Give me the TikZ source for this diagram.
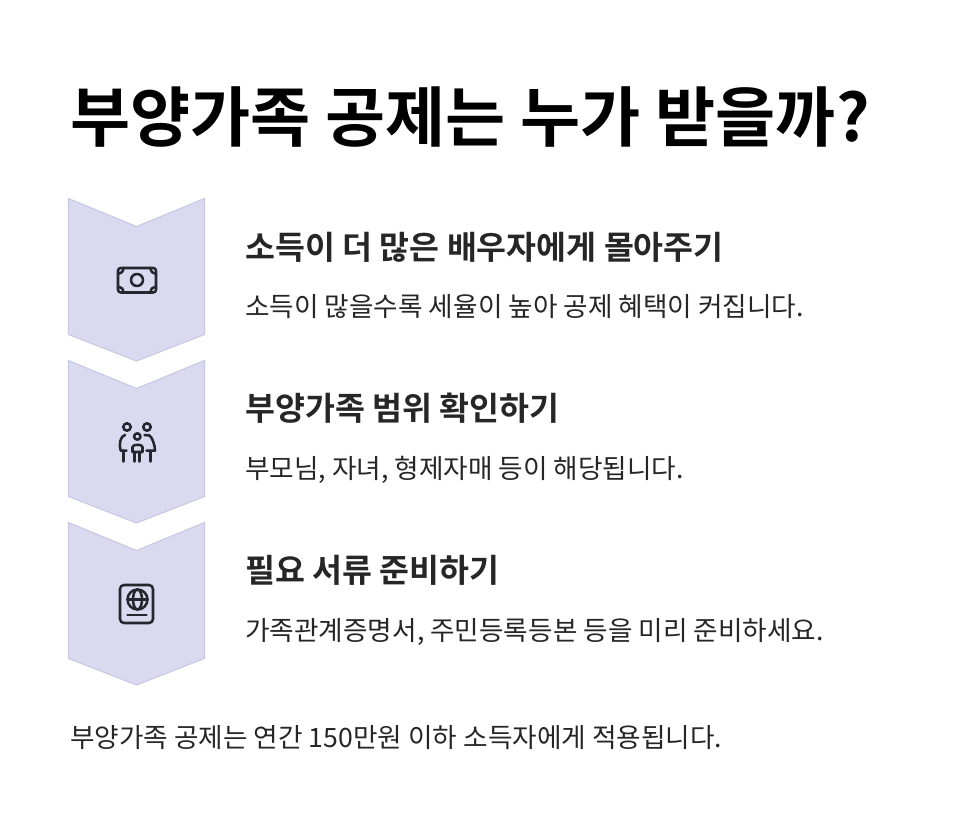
\documentclass[tikz,border=0pt]{standalone}
\usepackage{fontspec}
\setmainfont{Noto Sans CJK KR}
\newfontfamily\titlefont{Noto Sans CJK KR Bold}
\tikzset{
    chevron/.style={fill=chevfill, draw=chevline, line width=0.8pt, line join=miter},
    icon/.style={draw=iconline, line width=1.9pt, line cap=round, line join=round},
    titletext/.style={anchor=base west, inner sep=0pt, font=\titlefont\fontsize{49}{55}\selectfont},
    headtext/.style={anchor=base west, inner sep=0pt, text=headcol, font=\titlefont\fontsize{24.4}{30}\selectfont},
    bodytext/.style={anchor=base west, inner sep=0pt, text=headcol, font=\fontsize{20}{26}\selectfont}
}
\definecolor{chevfill}{HTML}{D9D9F0}
\definecolor{chevline}{HTML}{C8C8E2}
\definecolor{iconline}{HTML}{26262E}
\definecolor{headcol}{HTML}{262626}
\begin{document}
\begin{tikzpicture}[x=0.75pt, y=-0.75pt]
    \useasboundingbox (0,0) rectangle (975,831);

    % Title
    \node[titletext] (title) at (70, 142) {부양가족 공제는 누가 받을까?};

    % Chevrons
    \foreach \i in {0,1,2} {
        \draw[chevron] (68.5, 198.5+\i*162) -- (136.5, 226.5+\i*162) -- (204.5, 198.5+\i*162)
            -- (204.5, 334.5+\i*162) -- (136.5, 361+\i*162) -- (68.5, 334.5+\i*162) -- cycle;
    }

    % Money icon
    \draw[icon, rounded corners=2pt] (118, 268) rectangle (156, 292.5);
    \draw[icon] (137, 280) circle (6);
    \draw[icon] (118, 274) arc (-90:0:5.5 and -6);
    \draw[icon] (156, 274) arc (-90:-180:5.5 and -6);
    \draw[icon] (118, 286.5) arc (90:0:5.5 and -6);
    \draw[icon] (156, 286.5) arc (90:180:5.5 and -6);

    % Family icon
    \draw[icon] (127, 427) circle (3.7);
    \draw[icon] (147, 427) circle (3.7);
    \draw[icon] (137.3, 436.5) circle (3.2);
    \draw[icon] (125, 435) .. controls (120.5, 436) and (118.5, 444) .. (120.7, 450.7) -- (126.5, 450.7);
    \draw[icon] (123.5, 450.7) -- (123.5, 461.5);
    \draw[icon] (144.5, 435) -- (149.5, 435.5) .. controls (152, 437) and (155, 445) .. (155, 450.7) -- (146.5, 450.7);
    \draw[icon] (150.5, 450.7) -- (150.5, 461.5);
    \draw[icon] (132.5, 452) -- (132.5, 447) .. controls (132.5, 444) and (142.5, 444) .. (142.5, 447) -- (142.5, 452) -- cycle;
    \draw[icon] (134.7, 452) -- (134.7, 461.5);
    \draw[icon] (139.7, 452) -- (139.7, 461.5);

    % Passport icon
    \draw[icon, rounded corners=3pt] (120, 585) rectangle (153, 623);
    \draw[icon] (137.5, 599.5) circle (10);
    \draw[icon] (137.5, 599.5) ellipse (4.5 and 10);
    \draw[icon] (127.5, 599.5) -- (147.5, 599.5);
    \draw[icon] (127.5, 615) -- (146.5, 615);

    % Labels
    \node[headtext] (headone) at (245, 259.5) {소득이 더 많은 배우자에게 몰아주기};
    \node[bodytext] (bodyone) at (245, 316) {소득이 많을수록 세율이 높아 공제 혜택이 커집니다.};
    \node[headtext] (headtwo) at (245, 420.5) {부양가족 범위 확인하기};
    \node[bodytext] (bodytwo) at (245, 478) {부모님, 자녀, 형제자매 등이 해당됩니다.};
    \node[headtext] (headthree) at (245, 582.5) {필요 서류 준비하기};
    \node[bodytext] (bodythree) at (245, 640) {가족관계증명서, 주민등록등본 등을 미리 준비하세요.};

    % Footer
    \node[bodytext] (footer) at (70, 747) {부양가족 공제는 연간 150만원 이하 소득자에게 적용됩니다.};
\end{tikzpicture}
\end{document}
